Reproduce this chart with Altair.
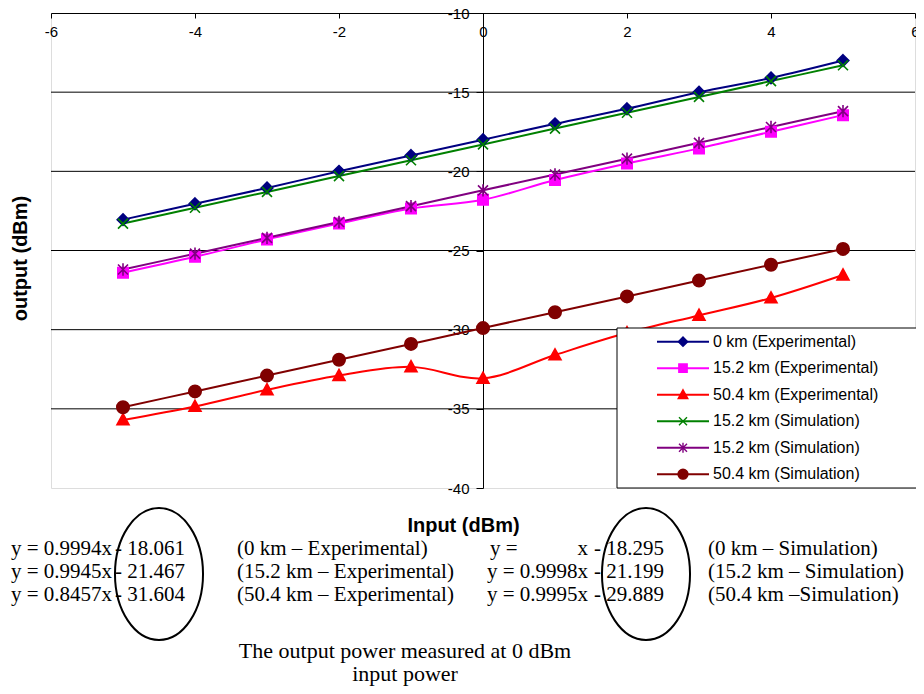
import altair as alt
import pandas as pd

# ---------------- data ----------------
x_input = [-5, -4, -3, -2, -1, 0, 1, 2, 3, 4, 5]
exp_0km = [-23.05, -22.05, -21.05, -20.0, -19.0, -18.0, -17.0, -16.05, -15.0, -14.1, -13.0]
exp_15km = [-26.4, -25.4, -24.3, -23.3, -22.35, -21.8, -20.55, -19.5, -18.55, -17.5, -16.45]
exp_50km = [-35.7, -34.85, -33.8, -32.9, -32.35, -33.07, -31.6, -30.2, -29.1, -28.0, -26.55]
sim_0km = [-23.3, -22.3, -21.3, -20.3, -19.3, -18.3, -17.3, -16.3, -15.3, -14.3, -13.3]
sim_15km = [-26.2, -25.2, -24.2, -23.2, -22.2, -21.2, -20.2, -19.2, -18.2, -17.2, -16.2]
sim_50km = [-34.9, -33.9, -32.9, -31.9, -30.9, -29.9, -28.9, -27.9, -26.9, -25.9, -24.9]

series_keys = ["e0", "e15", "e50", "s0", "s15", "s50"]
series_labels = ["0 km (Experimental)", "15.2 km (Experimental)", "50.4 km (Experimental)",
                 "15.2 km (Simulation)", "15.2 km (Simulation)", "50.4 km (Simulation)"]
series_values = [exp_0km, exp_15km, exp_50km, sim_0km, sim_15km, sim_50km]

x_ticks = [-6, -4, -2, 0, 2, 4, 6]
y_ticks = [-10, -15, -20, -25, -30, -35, -40]
grid_values = [-15, -20, -25, -30, -35]

exp_slope = ["0.9994", "0.9945", "0.8457"]
exp_intercept = ["18.061", "21.467", "31.604"]
exp_desc = ["(0 km \u2013 Experimental)", "(15.2 km \u2013 Experimental)", "(50.4 km \u2013 Experimental)"]
sim_slope = ["", "0.9998", "0.9995"]
sim_intercept = ["18.295", "21.199", "29.889"]
sim_desc = ["(0 km \u2013 Simulation)", "(15.2 km \u2013 Simulation)", "(50.4 km \u2013Simulation)"]
note_lines = ["The output power measured at 0 dBm", "input power"]

# ---------------- styles ----------------
colors = ["#000080", "#FF00FF", "#FF0000", "#008000", "#800080", "#800000"]
shapes = [
    "M0,-0.58L0.58,0L0,0.58L-0.58,0Z",
    "M-0.52,-0.52H0.52V0.52H-0.52Z",
    "M0,-0.62L0.6,0.48L-0.6,0.48Z",
    "M-0.5,-0.5L0.5,0.5M-0.5,0.5L0.5,-0.5",
    "M-0.5,-0.5L0.5,0.5M-0.5,0.5L0.5,-0.5M0,-0.62V0.62",
    "M-0.62,0C-0.62,-0.342,-0.342,-0.62,0,-0.62C0.342,-0.62,0.62,-0.342,0.62,0"
    "C0.62,0.342,0.342,0.62,0,0.62C-0.342,0.62,-0.62,0.342,-0.62,0Z",
]
ellipse_path = ("M-0.667,0C-0.667,-0.552,-0.368,-1,0,-1C0.368,-1,0.667,-0.552,0.667,0"
                "C0.667,0.552,0.368,1,0,1C-0.368,1,-0.667,0.552,-0.667,0Z")

W, H = 864, 475
SANS = "Liberation Sans"
SERIF = "Liberation Serif"

rows = []
for k, vals in zip(series_keys, series_values):
    for xv, yv in zip(x_input, vals):
        rows.append({"key": k, "x": xv, "y": yv})
df = pd.DataFrame(rows)

color_scale = alt.Scale(domain=series_keys, range=colors)
shape_scale = alt.Scale(domain=series_keys, range=shapes)

x_enc = alt.X("x:Q", scale=alt.Scale(domain=[-6, 6], nice=False, zero=False),
              axis=alt.Axis(orient="bottom", offset=-H, values=x_ticks, grid=False,
                            domainColor="black", domainWidth=1, tickColor="black",
                            tickSize=5, tickWidth=1, labelFont=SANS, labelFontSize=15,
                            labelColor="black", labelPadding=6, labelFlush=False,
                            labelOverlap=False, labelBound=False,
                            labelExpr="datum.value + ''",
                            title="Input (dBm)", titleFont=SANS, titleFontSize=20,
                            titleFontWeight="bold", titleColor="black",
                            titleX=412, titleY=512, titleAlign="center",
                            titleBaseline="middle"))
y_enc = alt.Y("y:Q", scale=alt.Scale(domain=[-40, -10], nice=False, zero=False),
              axis=alt.Axis(orient="left", offset=-W / 2, values=y_ticks, grid=False,
                            domainColor="black", domainWidth=1, tickColor="black",
                            tickSize=7, tickWidth=1, labelFont=SANS, labelFontSize=15,
                            labelColor="black", labelPadding=7, labelOverlap=False,
                            labelBound=False, labelExpr="datum.value + ''",
                            title="output (dBm)", titleFont=SANS, titleFontSize=20,
                            titleFontWeight="bold", titleColor="black",
                            titleX=-(W / 2 + 31), titleY=245, titleAngle=270,
                            titleAlign="center", titleBaseline="middle"))

grid = alt.Chart(pd.DataFrame({"y": grid_values})).mark_rule(
    color="black", strokeWidth=1).encode(y=y_enc)

lines = alt.Chart(df).mark_line(strokeWidth=2, interpolate="catmull-rom").encode(
    x=x_enc, y=y_enc,
    color=alt.Color("key:N", scale=color_scale, legend=None),
    detail="key:N",
)
points = alt.Chart(df).mark_point(filled=True, size=400, strokeWidth=1.6, opacity=1).encode(
    x=x_enc, y=y_enc,
    color=alt.Color("key:N", scale=color_scale, legend=None),
    stroke=alt.Stroke("key:N", scale=color_scale, legend=None),
    shape=alt.Shape("key:N", scale=shape_scale, legend=None),
)

one = pd.DataFrame({"k": [0]})
layers = [grid, lines, points]

# legend box
layers.append(alt.Chart(one).mark_rect(fill="white", stroke="black", strokeWidth=1).encode(
    x=alt.value(566), x2=alt.value(W + 2), y=alt.value(315), y2=alt.value(475)))
for i, (k, lab) in enumerate(zip(series_keys, series_labels)):
    d = pd.DataFrame({"key": [k], "label": [lab]})
    ly = 328.7 + 26.5 * i
    layers.append(alt.Chart(d).mark_rule(strokeWidth=2).encode(
        x=alt.value(606), x2=alt.value(658), y=alt.value(ly),
        color=alt.Color("key:N", scale=color_scale, legend=None)))
    layers.append(alt.Chart(d).mark_point(filled=True, size=256, strokeWidth=1.4, opacity=1).encode(
        x=alt.value(632), y=alt.value(ly),
        color=alt.Color("key:N", scale=color_scale, legend=None),
        stroke=alt.Stroke("key:N", scale=color_scale, legend=None),
        shape=alt.Shape("key:N", scale=shape_scale, legend=None)))
    layers.append(alt.Chart(d).mark_text(align="left", baseline="middle", font=SANS,
                                         fontSize=16, color="black").encode(
        x=alt.value(662), y=alt.value(ly), text="label:N"))

# equations below the chart
txt = dict(baseline="middle", font=SERIF, fontSize=21, color="black")
for i in range(3):
    ey = 536 + 23 * i
    d = pd.DataFrame({"es": [exp_slope[i]], "ei": [exp_intercept[i]], "ed": [exp_desc[i]],
                      "ss": [sim_slope[i]], "si": [sim_intercept[i]], "sd": [sim_desc[i]]})
    # experimental column
    layers.append(alt.Chart(d).transform_calculate(t="'y = ' + datum.es + 'x'").mark_text(
        align="right", **txt).encode(x=alt.value(61), y=alt.value(ey), text="t:N"))
    layers.append(alt.Chart(d).transform_calculate(t="'- ' + datum.ei").mark_text(
        align="left", **txt).encode(x=alt.value(64), y=alt.value(ey), text="t:N"))
    layers.append(alt.Chart(d).mark_text(align="left", **txt).encode(
        x=alt.value(186), y=alt.value(ey), text="ed:N"))
    # simulation column
    if sim_slope[i]:
        layers.append(alt.Chart(d).transform_calculate(t="'y = ' + datum.ss + 'x'").mark_text(
            align="right", **txt).encode(x=alt.value(537), y=alt.value(ey), text="t:N"))
    else:
        layers.append(alt.Chart(d).mark_text(align="left", **txt).encode(
            x=alt.value(439), y=alt.value(ey), text=alt.value("y =")))
        layers.append(alt.Chart(d).mark_text(align="right", **txt).encode(
            x=alt.value(537), y=alt.value(ey), text=alt.value("x")))
    layers.append(alt.Chart(d).transform_calculate(t="'- ' + datum.si").mark_text(
        align="left", **txt).encode(x=alt.value(543), y=alt.value(ey), text="t:N"))
    layers.append(alt.Chart(d).mark_text(align="left", **txt).encode(
        x=alt.value(657), y=alt.value(ey), text="sd:N"))

# ellipses
for ex in [108, 595]:
    layers.append(alt.Chart(one).mark_point(shape=ellipse_path, size=17424, filled=False,
                                            color="black", strokeWidth=2, opacity=1).encode(
        x=alt.value(ex), y=alt.value(561)))

# note
for i, line in enumerate(note_lines):
    d = pd.DataFrame({"t": [line]})
    layers.append(alt.Chart(d).mark_text(align="center", baseline="middle", font=SERIF,
                                         fontSize=22, color="black").encode(
        x=alt.value(354), y=alt.value(638 + 23 * i), text="t:N"))

chart = alt.layer(*layers).properties(
    width=W, height=H,
    padding={"left": 43, "top": 5, "right": 1, "bottom": 198},
    autosize=alt.AutoSizeParams(type="none"),
).configure_view(stroke="#808080", strokeWidth=2).configure(background="white")

chart.save("out.html", embed_options={"renderer": "svg", "actions": False})
